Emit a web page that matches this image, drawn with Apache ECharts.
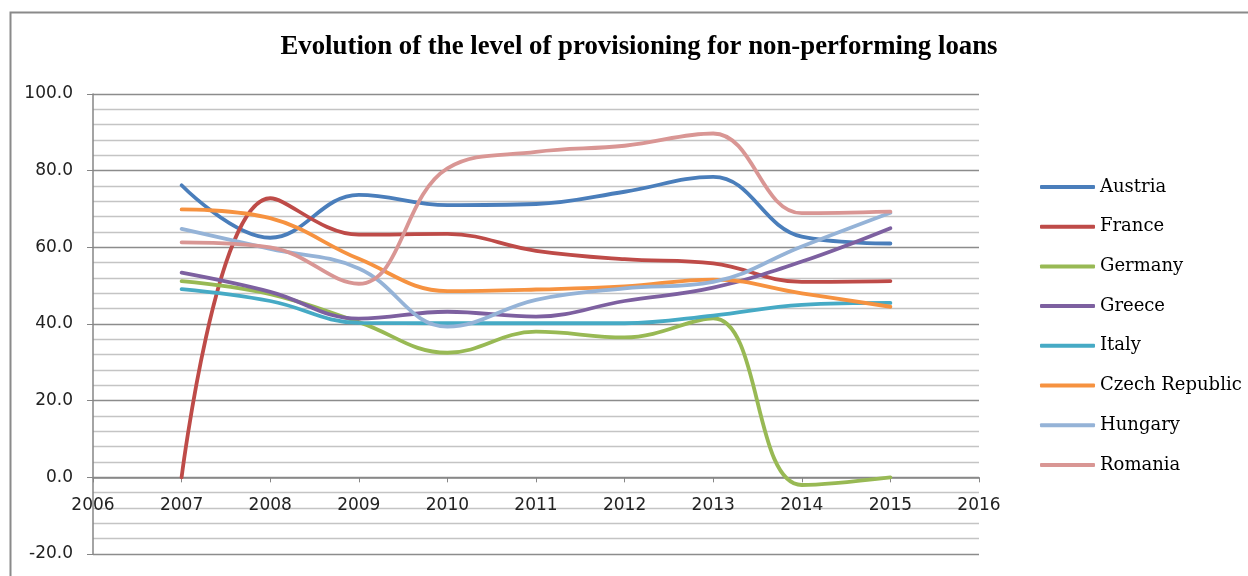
<!DOCTYPE html>
<html>
<head>
<meta charset="utf-8">
<script src="https://cdn.jsdelivr.net/npm/echarts@6/dist/echarts.min.js"></script>
<style>html,body{margin:0;padding:0;background:#fff}#c{width:1248px;height:576px}</style>
</head>
<body>
<div id="c"></div>
<script>
const years = [2007, 2008, 2009, 2010, 2011, 2012, 2013, 2014, 2015];
const countries = ['Austria', 'France', 'Germany', 'Greece', 'Italy', 'Czech Republic', 'Hungary', 'Romania'];
const austria  = [76.2, 62.5, 73.7, 71.0, 71.3, 74.5, 78.4, 62.8, 61.0];
const france   = [0.0, 72.8, 63.3, 63.5, 59.1, 56.9, 55.8, 51.0, 51.2];
const germany  = [51.2, 47.8, 40.5, 32.5, 38.0, 36.5, 41.5, -2.0, 0.0];
const greece   = [53.4, 48.4, 41.4, 43.2, 41.9, 46.0, 49.5, 56.3, 65.0];
const italy    = [49.1, 46.0, 40.3, 40.2, 40.2, 40.2, 42.2, 45.0, 45.5];
const czech    = [69.9, 67.6, 57.0, 48.6, 49.0, 49.8, 51.6, 48.0, 44.5];
const hungary  = [64.8, 59.6, 54.5, 39.3, 46.3, 49.3, 51.0, 60.2, 69.0];
const romania  = [61.3, 60.0, 50.5, 80.6, 84.9, 86.5, 89.7, 68.9, 69.3];
const seriesValues = [austria, france, germany, greece, italy, czech, hungary, romania];
const colors = ['#4A7EBB', '#BE4B48', '#98B954', '#7D60A0', '#46AAC5', '#F69240', '#95B3D7', '#D99694'];
const titleText = 'Evolution of the level of provisioning for non-performing loans';
const yMin = -20, yMax = 100;

const gridTop = 94, gridBottom = 22, chartH = 576;
const plotH = chartH - gridTop - gridBottom;
// move x-axis from the bottom of the plot up to the y = 0 line
const zeroOffset = -plotH * (0 - yMin) / (yMax - yMin);

const chart = echarts.init(document.getElementById('c'));
chart.setOption({
  animation: false,
  backgroundColor: '#fff',
  color: colors,
  graphic: [{
    type: 'rect', left: 8, top: 10, silent: true,
    shape: { x: 0, y: 0, width: 1300, height: 620 },
    style: { fill: 'none', stroke: '#8a8a8a', lineWidth: 2 }
  }],
  title: {
    text: titleText, left: 634, top: 29, textAlign: 'center',
    textStyle: { fontFamily: 'Liberation Serif', fontWeight: 'bold', fontSize: 26.8, color: '#000' }
  },
  legend: {
    orient: 'vertical', left: 1040, top: 177, padding: 0,
    itemWidth: 55, itemHeight: 4, itemGap: 19.7, icon: 'roundRect',
    textStyle: { fontFamily: 'DejaVu Serif', fontSize: 18, color: '#000', lineHeight: 20 },
    data: countries
  },
  grid: { left: 93, right: 269, top: gridTop, bottom: gridBottom, containLabel: false, outerBoundsMode: 'none' },
  xAxis: {
    type: 'value', min: 2006, max: 2016, interval: 1, position: 'bottom', offset: zeroOffset,
    axisLine: { onZero: false, lineStyle: { color: '#868686', width: 1.5 } },
    axisTick: { show: true, length: 5, lineStyle: { color: '#868686' } },
    axisLabel: { margin: 20, fontFamily: 'DejaVu Sans', fontSize: 17, color: '#222', formatter: v => String(v) },
    splitLine: { show: false }
  },
  yAxis: {
    type: 'value', min: yMin, max: yMax, interval: 20,
    axisLine: { show: true, onZero: false, lineStyle: { color: '#868686', width: 1.5 } },
    axisTick: { show: true, length: 6, lineStyle: { color: '#868686' } },
    axisLabel: { margin: 20, fontFamily: 'DejaVu Sans', fontSize: 17, color: '#222', formatter: v => v.toFixed(1) },
    splitLine: { show: true, lineStyle: { color: '#8c8c8c', width: 1.3 } },
    minorTick: { show: false, splitNumber: 5 },
    minorSplitLine: { show: true, lineStyle: { color: '#c4c4c4', width: 1.3 } }
  },
  series: countries.map((name, i) => ({
    name: name, type: 'line', smooth: 0.4, showSymbol: false, symbol: 'none',
    lineStyle: { width: 3.8, color: colors[i], cap: 'round' },
    itemStyle: { color: colors[i] },
    data: years.map((y, j) => [y, seriesValues[i][j]])
  }))
});
</script>
</body>
</html>
